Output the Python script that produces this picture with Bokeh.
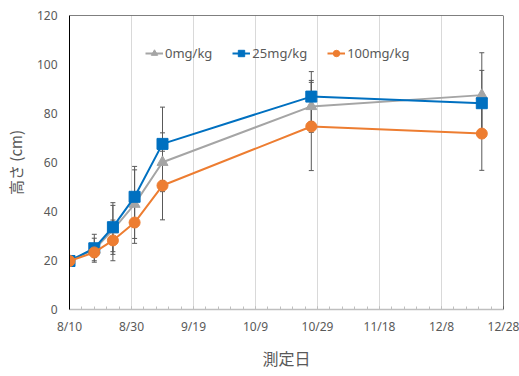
import pandas as pd
from bokeh.plotting import figure
from bokeh.models import (ColumnDataSource, Whisker, FixedTicker, Span, Legend,
                          LegendItem, TeeHead, Range1d, Title)
from bokeh.embed import file_html
from bokeh.resources import INLINE

# ---- data ----
dates = ["2019-08-10", "2019-08-18", "2019-08-24", "2019-08-31",
         "2019-09-09", "2019-10-27", "2019-12-21"]
series_names = ["0mg/kg", "25mg/kg", "100mg/kg"]
height_0 = [20.0, 24.5, 32.5, 43.0, 60.1, 82.9, 87.5]
height_25 = [19.8, 25.0, 33.6, 46.0, 67.6, 86.9, 84.2]
height_100 = [19.8, 23.3, 28.2, 35.5, 50.6, 74.7, 71.8]
err_0 = [0.0, 4.6, 10.0, 14.0, 12.0, 10.6, 17.3]
err_25 = [0.0, 5.7, 10.0, 12.4, 15.0, 10.2, 13.4]
err_100 = [0.0, 2.0, 8.3, 8.5, 14.0, 18.0, 15.0]
tick_labels = ["8/10", "8/30", "9/19", "10/9", "10/29", "11/18", "12/8", "12/28"]
y_ticks = [0, 20, 40, 60, 80, 100, 120]
x_title = "測定日"
y_title = "高さ (cm)"

start = pd.Timestamp("2019-08-10")
xs = [(pd.Timestamp(d) - start).days for d in dates]
tick_pos = [(pd.Timestamp(year=2019, month=int(t.split("/")[0]), day=int(t.split("/")[1])) - start).days
            for t in tick_labels]
minor_pos = list(range(tick_pos[0], tick_pos[-1] + 1, 4))

p = figure(width=519, height=376, output_backend="svg", toolbar_location=None,
           x_range=Range1d(tick_pos[0], tick_pos[-1]), y_range=Range1d(0, 120),
           min_border_left=69, min_border_right=16, min_border_top=15,
           min_border_bottom=67)
p.outline_line_color = None
p.background_fill_color = "white"
p.border_fill_color = "white"

GRAY_TXT = "#595959"
TICK_FONT = "Noto Sans"
JP_FONT = "Noto Sans CJK JP"

# x axis
xa = p.xaxis[0]
xa.ticker = FixedTicker(ticks=tick_pos, minor_ticks=minor_pos)
xa.major_label_overrides = {tp: lab for tp, lab in zip(tick_pos, tick_labels)}
xa.axis_line_color = "#bfbfbf"
xa.axis_line_width = 1.5
xa.major_tick_line_color = "#bfbfbf"
xa.minor_tick_line_color = "#bfbfbf"
xa.major_tick_in = 3
xa.major_tick_out = 0
xa.minor_tick_in = 3
xa.minor_tick_out = 0
xa.major_label_standoff = 8
xa.major_label_text_font = TICK_FONT
xa.major_label_text_font_size = "12px"
xa.major_label_text_color = GRAY_TXT

# x title placed in the bottom panel
p.add_layout(Title(text=x_title, align="center", text_font=JP_FONT,
                   text_font_size="16px", text_font_style="normal",
                   text_color=GRAY_TXT, standoff=12, text_line_height=0.6), "below")

# y axis
ya = p.yaxis[0]
ya.ticker = FixedTicker(ticks=y_ticks)
ya.axis_line_color = "black"
ya.axis_line_width = 1
ya.major_tick_line_color = None
ya.minor_tick_line_color = None
ya.major_tick_in = 0
ya.major_tick_out = 0
ya.major_label_standoff = 12
ya.major_label_text_font = TICK_FONT
ya.major_label_text_font_size = "12px"
ya.major_label_text_color = GRAY_TXT
ya.axis_label = y_title
ya.axis_label_text_font = JP_FONT
ya.axis_label_text_font_size = "15px"
ya.axis_label_text_font_style = "normal"
ya.axis_label_text_color = GRAY_TXT
ya.axis_label_standoff = 8

p.xgrid.ticker = FixedTicker(ticks=tick_pos)
p.xgrid.grid_line_color = "#d9d9d9"
p.ygrid.grid_line_color = None

p.add_layout(Span(location=120, dimension="width", line_color="black", line_width=1))
p.add_layout(Span(location=tick_pos[-1], dimension="height", line_color="black", line_width=1))

colors = ["#a5a5a5", "#0070c0", "#ed7d31"]
markers = ["triangle", "square", "circle"]
sizes = [11, 11, 11]
values = [height_0, height_25, height_100]
errors = [err_0, err_25, err_100]

items = []
for name, col, mk, sz, ys, es in zip(series_names, colors, markers, sizes, values, errors):
    src = ColumnDataSource(dict(x=xs, y=ys,
                                upper=[v + e for v, e in zip(ys, es)],
                                lower=[v - e for v, e in zip(ys, es)]))
    w = Whisker(source=src, base="x", upper="upper", lower="lower",
                line_color=GRAY_TXT, line_width=1,
                upper_head=TeeHead(size=5, line_color=GRAY_TXT, line_width=1),
                lower_head=TeeHead(size=5, line_color=GRAY_TXT, line_width=1))
    p.add_layout(w)

for name, col, mk, sz, ys, es in zip(series_names, colors, markers, sizes, values, errors):
    src = ColumnDataSource(dict(x=xs, y=ys))
    ln = p.line("x", "y", source=src, line_color=col, line_width=2)
    sc = p.scatter("x", "y", source=src, marker=mk, size=sz, fill_color=col, line_color=col)
    items.append(LegendItem(label=name, renderers=[ln, sc]))

legend = Legend(items=items, orientation="horizontal", location=(76, 247),
                label_text_font=TICK_FONT, label_text_font_size="13px",
                label_text_color=GRAY_TXT, glyph_width=18, glyph_height=16,
                label_standoff=2, spacing=20, padding=2, margin=0,
                border_line_color=None, background_fill_alpha=0)
p.add_layout(legend, "center")

open("out.html", "w").write(file_html(p, INLINE))
